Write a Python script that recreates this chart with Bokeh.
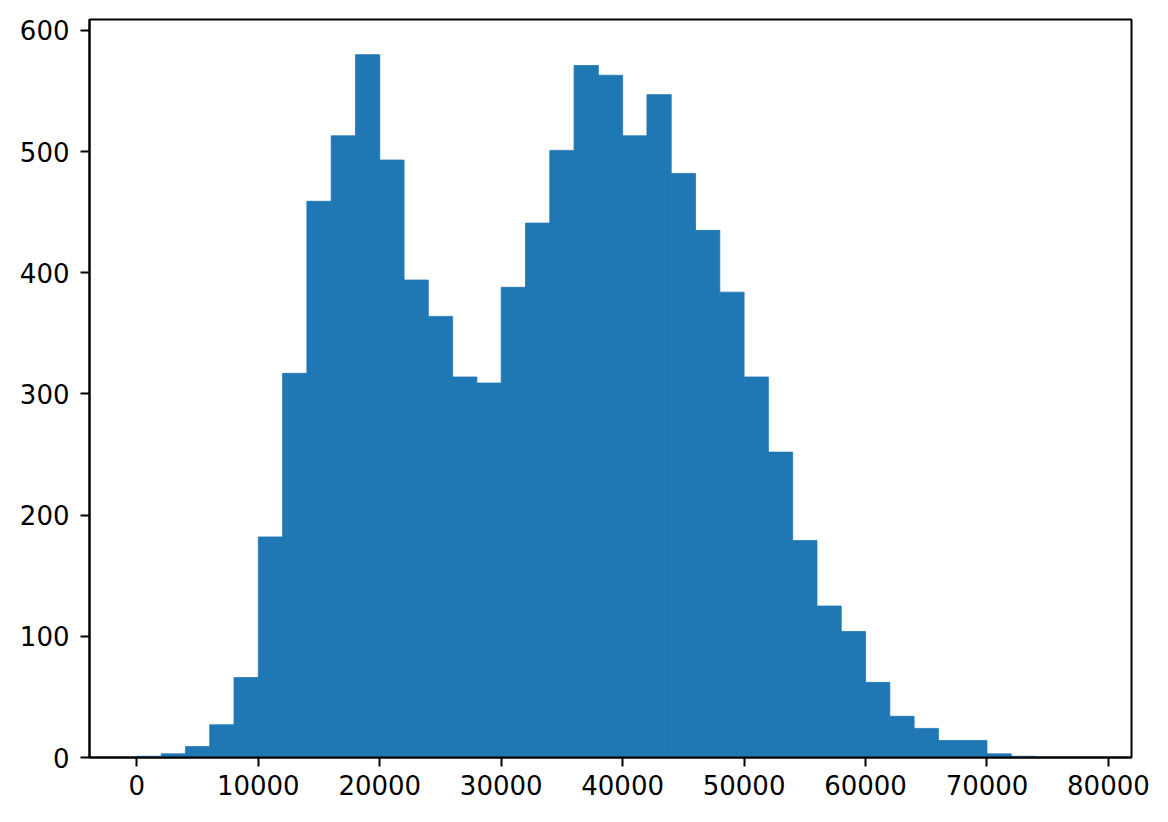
from bokeh.plotting import figure
from bokeh.models import Range1d, FixedTicker
from bokeh.embed import file_html
from bokeh.resources import INLINE

# Histogram data (bin edges and counts)
bin_left = [0, 2000, 4000, 6000, 8000, 10000, 12000, 14000, 16000, 18000,
            20000, 22000, 24000, 26000, 28000, 30000, 32000, 34000, 36000, 38000,
            40000, 42000, 44000, 46000, 48000, 50000, 52000, 54000, 56000, 58000,
            60000, 62000, 64000, 66000, 68000, 70000, 72000, 74000, 76000]
bin_right = [2000, 4000, 6000, 8000, 10000, 12000, 14000, 16000, 18000, 20000,
             22000, 24000, 26000, 28000, 30000, 32000, 34000, 36000, 38000, 40000,
             42000, 44000, 46000, 48000, 50000, 52000, 54000, 56000, 58000, 60000,
             62000, 64000, 66000, 68000, 70000, 72000, 74000, 76000, 78000]
counts = [1, 3, 9, 27, 66, 182, 317, 459, 513, 580,
          493, 394, 364, 314, 309, 388, 441, 501, 571, 563,
          513, 547, 482, 435, 384, 314, 252, 179, 125, 104,
          62, 34, 24, 14, 14, 3, 1, 0, 0]
bottoms = [0] * len(counts)

x_ticks = [0, 10000, 20000, 30000, 40000, 50000, 60000, 70000, 80000]
y_ticks = [0, 100, 200, 300, 400, 500, 600]

p = figure(width=1160, height=814, output_backend="svg", toolbar_location=None,
           x_range=Range1d(-3900, 81900), y_range=Range1d(0, 609),
           min_border_left=89, min_border_right=29, min_border_top=19,
           min_border_bottom=57)

p.quad(left=bin_left, right=bin_right, top=counts, bottom=bottoms,
       fill_color="#1f77b4", line_color="#1f77b4", line_width=0.8)

p.xgrid.visible = False
p.ygrid.visible = False
p.outline_line_color = "black"
p.outline_line_width = 2
p.outline_line_alpha = 1

for ax in (p.xaxis[0], p.yaxis[0]):
    ax.axis_line_width = 2
    ax.axis_line_color = "black"
    ax.major_tick_line_width = 2
    ax.major_tick_line_color = "black"
    ax.major_tick_out = 9
    ax.major_tick_in = 0
    ax.minor_tick_line_color = None
    ax.major_label_text_font = "DejaVu Sans"
    ax.major_label_text_font_size = "26px"
    ax.major_label_text_color = "black"

p.xaxis[0].ticker = FixedTicker(ticks=x_ticks)
p.yaxis[0].ticker = FixedTicker(ticks=y_ticks)
p.xaxis[0].major_label_standoff = 8
p.yaxis[0].major_label_standoff = 11
p.xaxis[0].major_label_overrides = {t: str(t) for t in x_ticks}
p.yaxis[0].major_label_overrides = {t: str(t) for t in y_ticks}

open("out.html", "w").write(file_html(p, INLINE))
